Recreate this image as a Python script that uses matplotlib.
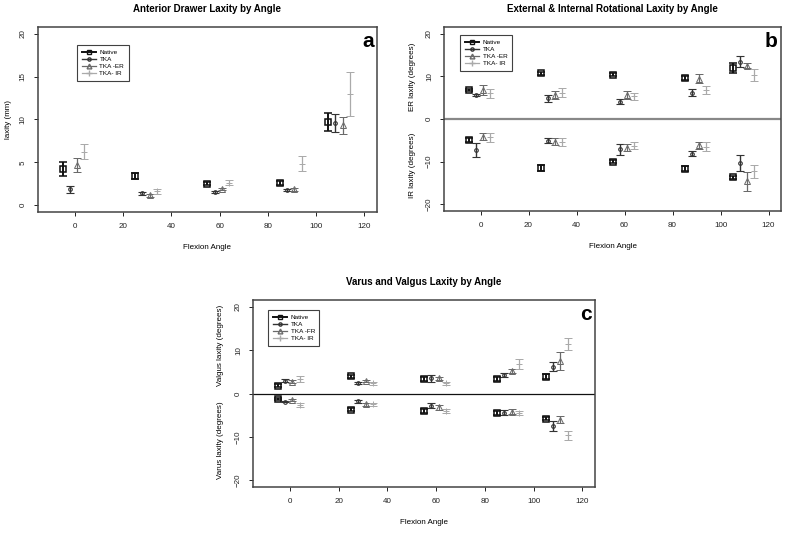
import numpy as np
import matplotlib
matplotlib.use("Agg")
import matplotlib.pyplot as plt
from matplotlib.lines import Line2D

plt.rcParams["font.family"] = ["Liberation Sans", "DejaVu Sans"]

# flexion angles and the small horizontal shift used for each group
angles = [0, 30, 60, 90, 110]
groups = ["Native", "TKA", "TKA -ER", "TKA- IR"]
offsets = [-5, -2, 1, 4]

# panel a - anterior drawer laxity (mm)
ad_native = [4.2, 3.4, 2.5, 2.55, 9.65]
ad_native_err = [0.8, 0.35, 0.2, 0.25, 1.05]
ad_tka = [1.85, 1.37, 1.5, 1.75, 9.55]
ad_tka_err = [0.4, 0.15, 0.1, 0.15, 1.05]
ad_er = [4.7, 1.13, 1.9, 1.85, 9.3]
ad_er_err = [0.8, 0.15, 0.15, 0.15, 0.95]
ad_ir = [6.25, 1.6, 2.6, 4.85, 13.0]
ad_ir_err = [0.9, 0.25, 0.3, 0.85, 2.6]

# panel b - ER (positive) and IR (negative) rotational laxity (degrees)
er_native = [6.8, 10.7, 10.35, 9.7, 11.9]
er_native_err = [0.3, 0.4, 0.35, 0.45, 1.2]
er_tka = [5.65, 4.9, 4.1, 6.2, 13.5]
er_tka_err = [0.2, 0.8, 0.6, 0.9, 1.2]
er_er = [6.8, 5.65, 5.65, 9.5, 12.5]
er_er_err = [1.2, 0.9, 0.85, 1.0, 0.6]
er_ir = [6.0, 6.2, 5.3, 6.8, 10.35]
er_ir_err = [1.0, 1.0, 0.85, 0.9, 1.35]

ir_native = [-4.95, -11.4, -10.0, -11.7, -13.7]
ir_native_err = [0.4, 0.7, 0.4, 0.6, 0.35]
ir_tka = [-7.3, -5.1, -7.05, -8.1, -10.4]
ir_tka_err = [1.7, 0.6, 1.3, 0.6, 1.9]
ir_er = [-4.15, -5.35, -6.7, -6.2, -14.6]
ir_er_err = [0.8, 0.8, 0.9, 0.9, 2.2]
ir_ir = [-4.3, -5.35, -6.3, -6.5, -12.25]
ir_ir_err = [1.0, 0.9, 0.8, 1.0, 1.5]

# panel c - valgus (positive) and varus (negative) laxity (degrees)
vl_native = [1.8, 3.95, 3.35, 3.35, 3.9]
vl_native_err = [0.3, 0.4, 0.35, 0.35, 0.5]
vl_tka = [2.95, 2.5, 3.5, 4.2, 6.2]
vl_tka_err = [0.3, 0.2, 0.8, 0.5, 1.1]
vl_er = [2.7, 2.9, 3.5, 5.2, 7.5]
vl_er_err = [0.35, 0.2, 0.35, 0.4, 2.05]
vl_ir = [3.35, 2.35, 2.35, 6.85, 11.45]
vl_ir_err = [0.6, 0.3, 0.35, 1.1, 1.45]

vr_native = [-1.25, -3.75, -4.05, -4.5, -5.85]
vr_native_err = [0.3, 0.4, 0.4, 0.4, 0.35]
vr_tka = [-1.85, -1.8, -2.8, -4.4, -7.5]
vr_tka_err = [0.2, 0.3, 0.5, 0.5, 1.1]
vr_er = [-1.5, -2.5, -3.2, -4.2, -6.1]
vr_er_err = [0.3, 0.4, 0.5, 0.6, 0.8]
vr_ir = [-2.65, -2.5, -4.05, -4.5, -9.7]
vr_ir_err = [0.5, 0.4, 0.4, 0.5, 1.1]

colors = ["#111111", "#333333", "#6a6a6a", "#aaaaaa"]
markers = ["s", "o", "^", "+"]
msizes = [3.8, 2.6, 3.8, 4.5]
lwidths = [1.4, 1.0, 0.9, 0.9]

FS = 5.8


def draw_group(ax, means, errs, i):
    x = np.array(angles) + offsets[i]
    ax.errorbar(x, means, yerr=errs, fmt=markers[i], color=colors[i],
                ms=msizes[i], mfc="none", mec=colors[i], mew=lwidths[i] * 0.8,
                elinewidth=lwidths[i], capsize=2.6, capthick=lwidths[i],
                zorder=3)


def style_axes(ax, title, letter, ylim, yticks):
    ax.set_xlim(-15.2, 125.2)
    ax.set_ylim(ylim)
    ax.set_xticks([0, 20, 40, 60, 80, 100, 120])
    ax.set_yticks(yticks)
    ax.set_title(title, fontsize=7, fontweight="bold", pad=11)
    ax.set_xlabel("Flexion Angle", fontsize=FS, labelpad=10)
    ax.tick_params(labelsize=FS, length=3, width=0.7, pad=5, colors="#222222")
    for lab in ax.get_yticklabels():
        lab.set_rotation(90)
        lab.set_va("center")
    for s in ax.spines.values():
        s.set_linewidth(1.1)
        s.set_color("#444444")
    ax.text(0.99, 0.975, letter, transform=ax.transAxes, ha="right", va="top",
            fontsize=15, fontweight="bold")


def add_legend(ax, labels, x, y):
    handles = []
    for i in range(4):
        handles.append(Line2D([0], [0], color=colors[i], marker=markers[i],
                              ms=msizes[i] * 0.9, mfc="none", mec=colors[i],
                              lw=lwidths[i]))
    leg = ax.legend(handles, labels, loc="upper left", bbox_to_anchor=(x, y),
                    fontsize=4.6, frameon=True, fancybox=False,
                    handlelength=2.2, handletextpad=0.6, borderpad=0.7,
                    labelspacing=0.25)
    leg.get_frame().set_edgecolor("#111111")
    leg.get_frame().set_linewidth(0.8)


fig = plt.figure(figsize=(7.87, 5.33), dpi=100)

# a
ax1 = fig.add_axes([0.0483, 0.6023, 0.4307, 0.3471])
for i, (m, e) in enumerate([(ad_native, ad_native_err), (ad_tka, ad_tka_err),
                            (ad_er, ad_er_err), (ad_ir, ad_ir_err)]):
    draw_group(ax1, m, e, i)
style_axes(ax1, "Anterior Drawer Laxity by Angle", "a", (-0.8, 20.8),
           [0, 5, 10, 15, 20])
ax1.set_ylabel("laxity (mm)", fontsize=FS, labelpad=6)
add_legend(ax1, groups, 0.106, 0.919)

# b
ax2 = fig.add_axes([0.5642, 0.6041, 0.4282, 0.3452])
ax2.axhline(0, color="#888888", lw=1.6, zorder=1)
for i, (m, e) in enumerate([(er_native, er_native_err), (er_tka, er_tka_err),
                            (er_er, er_er_err), (er_ir, er_ir_err)]):
    draw_group(ax2, m, e, i)
for i, (m, e) in enumerate([(ir_native, ir_native_err), (ir_tka, ir_tka_err),
                            (ir_er, ir_er_err), (ir_ir, ir_ir_err)]):
    draw_group(ax2, m, e, i)
style_axes(ax2, "External & Internal Rotational Laxity by Angle", "b",
           (-21.6, 21.6), [-20, -10, 0, 10, 20])
ax2.text(-0.095, 0.728, "ER laxity (degrees)", transform=ax2.transAxes,
         rotation=90, ha="center", va="center", fontsize=FS)
ax2.text(-0.095, 0.25, "IR laxity (degrees)", transform=ax2.transAxes,
         rotation=90, ha="center", va="center", fontsize=FS)
add_legend(ax2, groups, 0.039, 0.973)

# c
ax3 = fig.add_axes([0.3215, 0.0863, 0.4346, 0.3508])
ax3.axhline(0, color="#111111", lw=0.9, zorder=1)
for i, (m, e) in enumerate([(vl_native, vl_native_err), (vl_tka, vl_tka_err),
                            (vl_er, vl_er_err), (vl_ir, vl_ir_err)]):
    draw_group(ax3, m, e, i)
for i, (m, e) in enumerate([(vr_native, vr_native_err), (vr_tka, vr_tka_err),
                            (vr_er, vr_er_err), (vr_ir, vr_ir_err)]):
    draw_group(ax3, m, e, i)
style_axes(ax3, "Varus and Valgus Laxity by Angle", "c", (-21.6, 21.6),
           [-20, -10, 0, 10, 20])
ax3.text(-0.0965, 0.759, "Valgus laxity (degrees)", transform=ax3.transAxes,
         rotation=90, ha="center", va="center", fontsize=FS)
ax3.text(-0.0965, 0.251, "Varus laxity (degrees)", transform=ax3.transAxes,
         rotation=90, ha="center", va="center", fontsize=FS)
add_legend(ax3, ["Native", "TKA", "TKA -FR", "TKA- IR"], 0.035, 0.963)

fig.savefig("out.png", dpi=100)
